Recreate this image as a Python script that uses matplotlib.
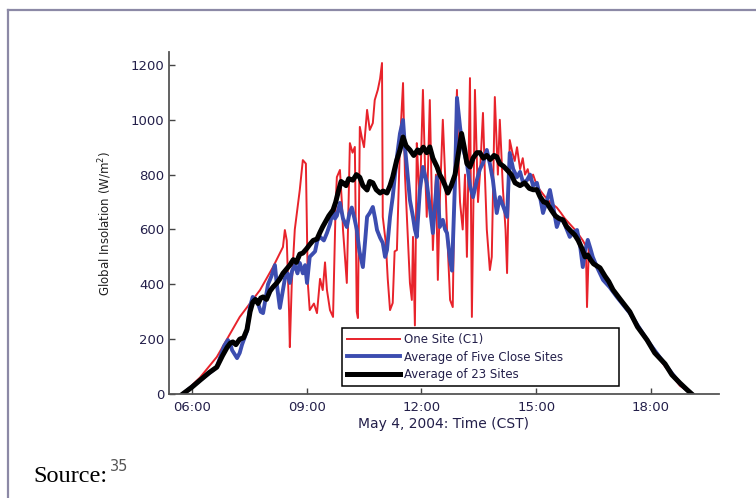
import matplotlib.pyplot as plt
from matplotlib.lines import Line2D

# (hour of day, global insolation W/m^2)
one_site = [
    (5.76, 0), (6.21, 60), (6.65, 135), (7.25, 281), (7.78, 379), (8.12, 463),
    (8.38, 536), (8.43, 598), (8.48, 560), (8.54, 300), (8.56, 171), (8.61, 400),
    (8.69, 600), (8.82, 744), (8.90, 853), (8.98, 840), (9.03, 405), (9.08, 306),
    (9.19, 330), (9.27, 295), (9.35, 420), (9.42, 379), (9.48, 480), (9.53, 380),
    (9.61, 306), (9.69, 281), (9.76, 700), (9.79, 791), (9.87, 817), (9.92, 700),
    (9.95, 600), (10.05, 405), (10.13, 915), (10.20, 880), (10.26, 901), (10.31, 300),
    (10.34, 277), (10.39, 974), (10.45, 930), (10.50, 900), (10.58, 1036), (10.65, 963),
    (10.73, 988), (10.78, 1072), (10.86, 1109), (10.92, 1150), (10.97, 1207), (10.99, 646),
    (11.07, 550), (11.12, 420), (11.18, 306), (11.25, 332), (11.30, 520), (11.36, 525),
    (11.44, 915), (11.52, 1134), (11.57, 800), (11.62, 646), (11.70, 405), (11.75, 343),
    (11.78, 573), (11.83, 250), (11.88, 915), (11.92, 800), (11.96, 700), (12.04, 1109),
    (12.09, 850), (12.14, 646), (12.22, 1072), (12.30, 525), (12.38, 800), (12.43, 416),
    (12.48, 700), (12.56, 1000), (12.62, 800), (12.67, 600), (12.75, 343), (12.82, 317),
    (12.88, 900), (12.93, 1109), (12.97, 850), (13.01, 700), (13.08, 600), (13.14, 800),
    (13.19, 500), (13.27, 1152), (13.32, 281), (13.40, 1109), (13.44, 900), (13.48, 700),
    (13.53, 800), (13.61, 1025), (13.66, 800), (13.71, 600), (13.79, 452), (13.84, 500),
    (13.92, 1083), (14.00, 800), (14.05, 1000), (14.09, 880), (14.13, 750), (14.20, 600),
    (14.24, 441), (14.31, 926), (14.38, 880), (14.44, 850), (14.50, 900), (14.58, 820),
    (14.65, 860), (14.71, 800), (14.78, 820), (14.84, 780), (14.92, 800), (15.02, 760),
    (15.12, 740), (15.23, 720), (15.30, 710), (15.36, 700), (15.45, 690), (15.54, 680),
    (15.65, 660), (15.75, 640), (15.88, 620), (16.01, 600), (16.12, 580), (16.22, 560),
    (16.30, 540), (16.33, 317), (16.38, 540), (16.46, 500), (16.54, 480), (16.80, 430),
    (17.06, 370), (17.45, 295), (17.90, 190), (18.37, 100), (18.76, 30), (19.07, 0),
]

five_sites = [
    (5.76, 0), (6.21, 50), (6.65, 98), (6.84, 175), (6.94, 197), (7.00, 185),
    (7.05, 160), (7.18, 131), (7.25, 150), (7.31, 180), (7.44, 230), (7.52, 320),
    (7.59, 354), (7.66, 345), (7.73, 330), (7.80, 300), (7.86, 295), (7.99, 400),
    (8.08, 430), (8.17, 470), (8.22, 400), (8.30, 314), (8.38, 380), (8.43, 420),
    (8.50, 440), (8.56, 405), (8.62, 450), (8.69, 470), (8.76, 440), (8.82, 478),
    (8.90, 440), (8.96, 470), (9.01, 405), (9.08, 500), (9.15, 510), (9.22, 520),
    (9.28, 560), (9.35, 573), (9.45, 560), (9.53, 587), (9.61, 620), (9.69, 671),
    (9.74, 640), (9.79, 650), (9.87, 697), (9.95, 640), (10.05, 609), (10.12, 660),
    (10.18, 680), (10.25, 640), (10.31, 600), (10.38, 520), (10.47, 463), (10.53, 560),
    (10.58, 646), (10.65, 660), (10.73, 682), (10.79, 640), (10.84, 598), (10.92, 570),
    (10.99, 551), (11.05, 500), (11.10, 525), (11.18, 646), (11.25, 718), (11.31, 800),
    (11.36, 864), (11.44, 950), (11.52, 999), (11.57, 900), (11.62, 828), (11.70, 707),
    (11.78, 646), (11.83, 600), (11.88, 573), (11.96, 744), (12.04, 828), (12.09, 800),
    (12.14, 770), (12.22, 682), (12.30, 587), (12.36, 700), (12.41, 791), (12.48, 609),
    (12.56, 635), (12.62, 600), (12.67, 587), (12.75, 489), (12.80, 450), (12.88, 780),
    (12.93, 1080), (13.01, 974), (13.08, 900), (13.19, 842), (13.27, 760), (13.35, 718),
    (13.45, 780), (13.53, 820), (13.61, 842), (13.71, 890), (13.79, 840), (13.87, 780),
    (13.97, 660), (14.05, 718), (14.15, 680), (14.24, 646), (14.31, 879), (14.40, 820),
    (14.50, 791), (14.58, 810), (14.66, 770), (14.76, 780), (14.84, 800), (14.92, 760),
    (15.02, 770), (15.10, 720), (15.18, 660), (15.27, 700), (15.36, 744), (15.45, 680),
    (15.54, 609), (15.62, 640), (15.70, 635), (15.80, 600), (15.88, 573), (15.97, 590),
    (16.07, 598), (16.15, 540), (16.22, 463), (16.28, 520), (16.35, 562), (16.42, 530),
    (16.48, 500), (16.60, 460), (16.75, 416), (16.92, 390), (17.11, 354), (17.45, 295),
    (17.90, 197), (18.37, 108), (18.76, 38), (19.07, 0),
]

all_sites = [
    (5.76, 0), (6.00, 25), (6.21, 50), (6.45, 78), (6.65, 98), (6.80, 140),
    (6.92, 170), (7.00, 185), (7.07, 190), (7.15, 180), (7.25, 200), (7.35, 205),
    (7.44, 235), (7.52, 300), (7.59, 335), (7.66, 345), (7.73, 330), (7.80, 350),
    (7.86, 354), (7.95, 345), (8.04, 375), (8.12, 390), (8.22, 405), (8.30, 420),
    (8.38, 440), (8.47, 455), (8.56, 470), (8.65, 490), (8.73, 480), (8.82, 510),
    (8.90, 514), (9.00, 530), (9.08, 545), (9.17, 560), (9.27, 565), (9.35, 590),
    (9.42, 610), (9.50, 630), (9.58, 650), (9.69, 671), (9.76, 700), (9.83, 740),
    (9.90, 775), (9.95, 770), (10.03, 760), (10.10, 785), (10.21, 780), (10.30, 800),
    (10.39, 790), (10.47, 760), (10.58, 744), (10.65, 775), (10.73, 770), (10.82, 745),
    (10.92, 733), (11.00, 740), (11.10, 733), (11.18, 760), (11.25, 791), (11.35, 850),
    (11.44, 890), (11.52, 937), (11.60, 905), (11.70, 890), (11.80, 870), (11.90, 890),
    (11.96, 879), (12.05, 900), (12.14, 880), (12.22, 901), (12.30, 860), (12.41, 828),
    (12.48, 800), (12.56, 780), (12.62, 760), (12.69, 733), (12.78, 760), (12.88, 800),
    (12.97, 880), (13.05, 950), (13.12, 900), (13.19, 840), (13.27, 828), (13.35, 860),
    (13.45, 880), (13.53, 880), (13.62, 860), (13.71, 870), (13.80, 855), (13.90, 870),
    (13.97, 865), (14.05, 840), (14.15, 830), (14.24, 817), (14.35, 800), (14.45, 770),
    (14.58, 760), (14.70, 770), (14.82, 750), (14.92, 745), (15.02, 745), (15.10, 720),
    (15.20, 700), (15.28, 697), (15.40, 670), (15.50, 650), (15.60, 640), (15.70, 635),
    (15.80, 610), (15.90, 595), (16.01, 580), (16.10, 560), (16.20, 530), (16.28, 500),
    (16.35, 507), (16.42, 490), (16.50, 475), (16.58, 468), (16.67, 460), (16.80, 430),
    (16.90, 410), (17.01, 380), (17.20, 345), (17.45, 300), (17.65, 245), (17.90, 197),
    (18.10, 150), (18.37, 110), (18.55, 70), (18.76, 40), (18.95, 15), (19.07, 0),
]

series_labels = ['One Site (C1)', 'Average of Five Close Sites', 'Average of 23 Sites']
tick_hours = [6, 9, 12, 15, 18]
tick_labels = ['06:00', '09:00', '12:00', '15:00', '18:00']

fig = plt.figure(figsize=(7.56, 4.98), dpi=100)
ax = fig.add_axes([0.2235, 0.2088, 0.7275, 0.6867])

styles = [('#e8232b', 1.4), ('#3c4db0', 2.8), ('black', 3.6)]
for data, label, (col, lw) in zip([one_site, five_sites, all_sites], series_labels, styles):
    t, v = zip(*data)
    ax.plot(t, v, color=col, lw=lw, label=label)

ax.set_xlim(5.40, 19.78)
ax.set_ylim(0, 1247)
ax.set_xticks(tick_hours)
ax.set_xticklabels(tick_labels)
ax.set_yticks(range(0, 1201, 200))

for s in ['top', 'right']:
    ax.spines[s].set_visible(False)
for s in ['left', 'bottom']:
    ax.spines[s].set_color('#555555')
    ax.spines[s].set_linewidth(1.3)
ax.tick_params(direction='in', length=4, width=1, color='#444444',
               labelsize=9.5, labelcolor='#231f4a')
ax.tick_params(axis='x', pad=5)
ax.tick_params(axis='y', pad=3.5)

ax.set_ylabel('Global Insolation (W/m$^2$)', fontsize=8.5, color='#1e1e1e')
ax.yaxis.set_label_coords(-0.10, 0.5)
ax.set_xlabel('May 4, 2004: Time (CST)', fontsize=10, color='#231f4a')
ax.xaxis.set_label_coords(0.5, -0.067)

leg = ax.legend(loc='lower left', bbox_to_anchor=(0.3145, 0.0234, 0.5036, 0.1784),
                mode='expand', borderaxespad=0, fontsize=8.5, fancybox=False,
                edgecolor='black', framealpha=1, handlelength=4.5,
                handletextpad=0.3, labelspacing=0.35, borderpad=0.45)
leg.get_frame().set_linewidth(1.1)
for txt in leg.get_texts():
    txt.set_color('#231f4a')

# page frame lines (top and left)
fig.add_artist(Line2D([0.0106, 1.0], [0.980, 0.980], transform=fig.transFigure,
                      color='#8c89a6', lw=1.6))
fig.add_artist(Line2D([0.0106, 0.0106], [0.0, 0.980], transform=fig.transFigure,
                      color='#8c89a6', lw=1.6))

fig.text(33 / 756, 1 - 482 / 498, 'Source:', family='Liberation Serif',
         fontsize=17.5, va='baseline')
fig.text(110 / 756, 1 - 474 / 498, '35', fontsize=10.5, color='#555555', va='bottom')

fig.savefig('out.png', dpi=100)
